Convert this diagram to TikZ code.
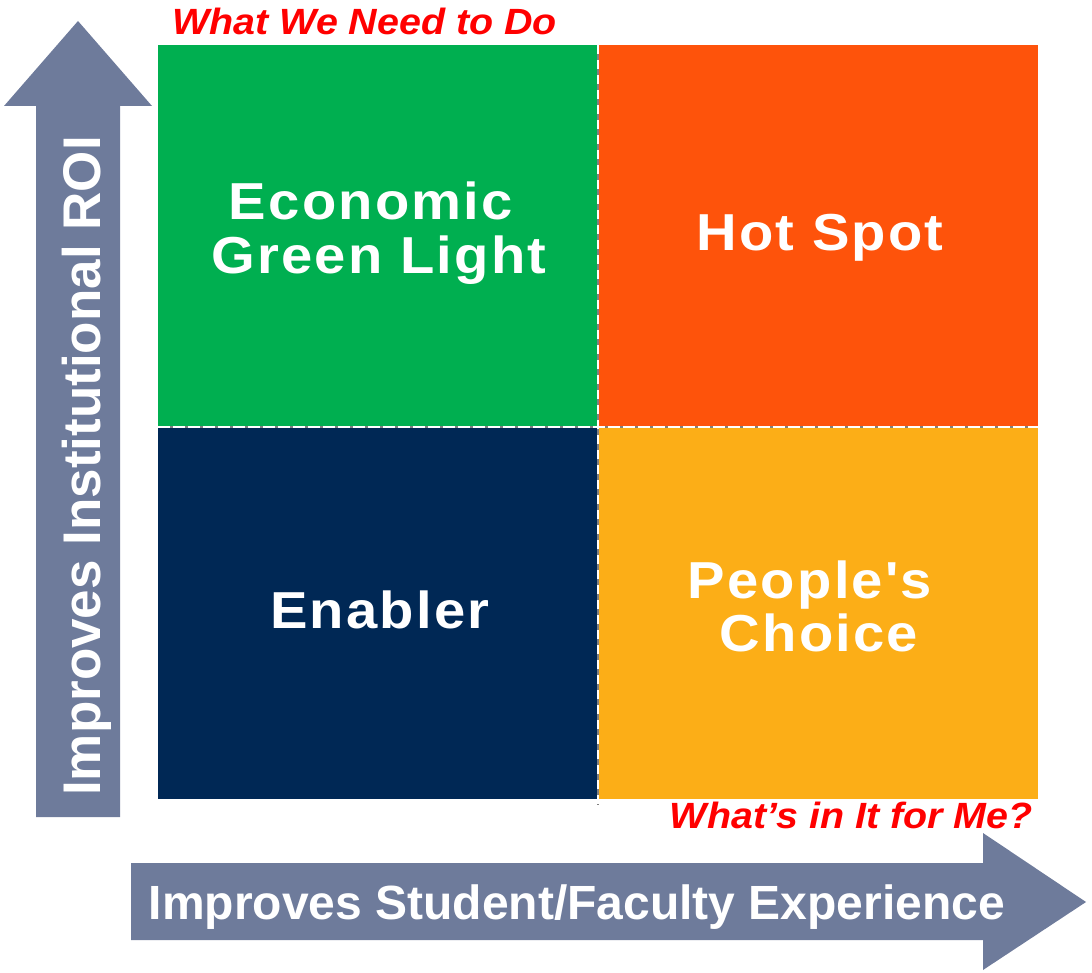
\documentclass[tikz,border=0pt]{standalone}
\usepackage{fontspec}
\setmainfont{Liberation Sans}
\newfontfamily\quadfont[LetterSpace=4]{Liberation Sans}
\usetikzlibrary{positioning}
\definecolor{qgreen}{RGB}{0,175,80}
\definecolor{qorange}{RGB}{254,83,11}
\definecolor{qnavy}{RGB}{0,40,85}
\definecolor{qamber}{RGB}{252,174,23}
\definecolor{axisblue}{RGB}{110,123,155}
\definecolor{divgray}{RGB}{128,128,128}
\begin{document}
\begin{tikzpicture}[x=1pt,y=-1pt,
  quad/.style={inner sep=0pt,outer sep=0pt,minimum width=440pt,anchor=north west},
  quadlabel/.style={text=white,inner sep=0pt,anchor=base,xscale=1.08,transform shape,
    font=\quadfont\bfseries\fontsize{52}{55}\selectfont},
  axislabel/.style={text=white,inner sep=0pt,anchor=base},
  note/.style={text=red,inner sep=0pt,xscale=1.08,transform shape,
    font=\bfseries\itshape\fontsize{36.5}{40}\selectfont},
  axisarrow/.style={fill=axisblue,draw=none},
  divider/.style={line width=2pt}]
\useasboundingbox (0,0) rectangle (1092,973);

% axis arrows
\fill[axisarrow] (36,817) -- (36,106) -- (4,106) -- (78,21) -- (152,106)
  -- (120,106) -- (120,817) -- cycle;
\fill[axisarrow] (131,863) -- (983,863) -- (983,833) -- (1086,902)
  -- (983,970) -- (983,940) -- (131,940) -- cycle;

% quadrants
\node[quad,fill=qgreen,minimum height=382pt] (gl) at (158,45) {};
\node[quad,fill=qorange,minimum height=382pt] (hs) at (598,45) {};
\node[quad,fill=qnavy,minimum height=372pt] (en) at (158,427) {};
\node[quad,fill=qamber,minimum height=372pt] (pc) at (598,427) {};

% dividers
\coordinate (vtop) at (598,45);
\coordinate (vbot) at (598,805);
\coordinate (hleft) at (158,427);
\coordinate (hright) at (1038,427);
\draw[divider,divgray] (vtop) -- (vbot);
\draw[divider,white,dash pattern=on 9pt off 6pt] (vtop) -- (vbot);
\draw[divider,divgray] (hleft) -- (hright);
\draw[divider,white,dash pattern=on 12pt off 3pt] (hleft) -- (hright);

% quadrant labels
\node[quadlabel] (l1) at (371,220) {Economic};
\node[quadlabel] (l2) at (379,274) {Green Light};
\node[quadlabel] (l3) at (820,251) {Hot Spot};
\node[quadlabel] (l4) at (380,628) {Enabler};
\node[quadlabel] (l5) at (810,598) {People's};
\node[quadlabel] (l6) at (819,651) {Choice};

% axis labels
\node[axislabel,rotate=90,font=\bfseries\fontsize{53}{56}\selectfont]
  (yl) at (100,466) {Improves Institutional ROI};
\node[axislabel,font=\bfseries\fontsize{48}{52}\selectfont]
  (xl) at (577,919) {Improves Student/Faculty Experience};

% notes
\node[note,anchor=base west] (n1) at (172,35) {What We Need to Do};
\node[note,anchor=base east] (n2) at (1033,828) {What’s in It for Me?};
\end{tikzpicture}
\end{document}
